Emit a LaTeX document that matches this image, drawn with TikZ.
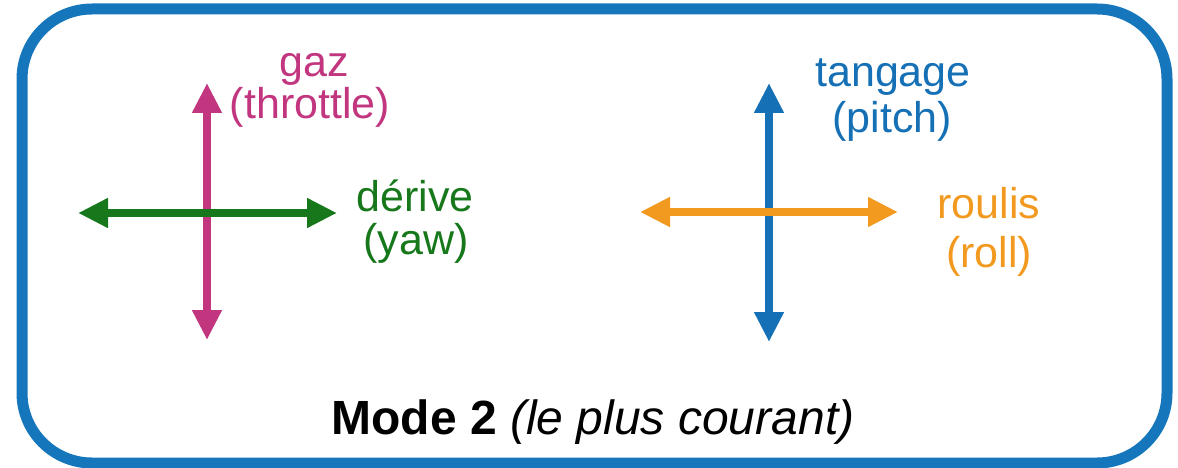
\documentclass[tikz,border=0pt]{standalone}
\usepackage{fontspec}
\setmainfont{Liberation Sans}
\usetikzlibrary{arrows.meta}
\definecolor{frameblue}{HTML}{1576BC}
\definecolor{gazcol}{HTML}{C2357F}
\definecolor{yawcol}{HTML}{17781B}
\definecolor{pitchcol}{HTML}{1570B5}
\definecolor{rollcol}{HTML}{F29A1F}
\tikzset{
  axis/.style={line width=7.5pt, {Triangle[width=28pt,length=30pt]}-{Triangle[width=28pt,length=30pt]}},
  lbl/.style={anchor=base, inner sep=0pt, font=\fontsize{43}{50}\selectfont},
}
\begin{document}
\begin{tikzpicture}[x=1pt,y=-1pt]
\useasboundingbox (0,0) rectangle (1178,468);
% outer frame
\draw[frameblue, line width=11pt, rounded corners=70pt] (22,9) rectangle (1167,463);

% left stick: throttle / yaw
\coordinate (gt) at (207,83);
\coordinate (gb) at (207,340);
\coordinate (yl) at (78,213);
\coordinate (yr) at (337,213);
\draw[axis, gazcol] (gb) -- (gt);
\draw[axis, yawcol] (yl) -- (yr);
\node[lbl, text=gazcol] (gaz) at (314,77) {gaz};
\node[lbl, text=gazcol] (thr) at (310,119) {(throttle)};
\node[lbl, text=yawcol] (der) at (415,211) {dérive};
\node[lbl, text=yawcol] (yaw) at (416,254) {(yaw)};

% right stick: pitch / roll
\coordinate (pt) at (769,83);
\coordinate (pb) at (769,342);
\coordinate (rl) at (640,212);
\coordinate (rr) at (898,212);
\draw[axis, pitchcol] (pb) -- (pt);
\draw[axis, rollcol] (rl) -- (rr);
\node[lbl, text=pitchcol] (tang) at (893,87) {tangage};
\node[lbl, text=pitchcol] (pitch) at (892,133) {(pitch)};
\node[lbl, text=rollcol] (roul) at (989,218) {roulis};
\node[lbl, text=rollcol] (roll) at (989,267) {(roll)};

% caption
\node[anchor=base, inner sep=0pt, font=\fontsize{48}{56}\selectfont] (mode) at (593,434)
  {\textbf{Mode 2} \textit{(le plus courant)}};
\end{tikzpicture}
\end{document}
